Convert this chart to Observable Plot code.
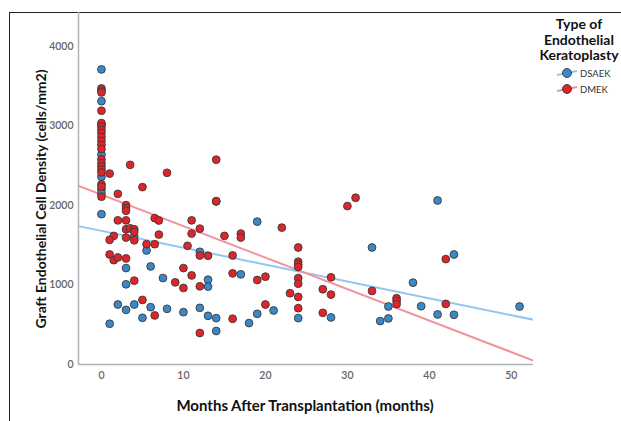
<!DOCTYPE html>
<html><head><meta charset="utf-8">
<script src="https://cdn.jsdelivr.net/npm/d3@7"></script>
<script src="https://cdn.jsdelivr.net/npm/@observablehq/plot@0.6"></script>
<style>
body{margin:0;background:#fff;font-family:Lato,"Open Sans",sans-serif;}
#wrap{position:relative;width:621px;height:421px;overflow:hidden;background:#fff;}
#frame{position:absolute;left:9px;top:12px;width:700px;height:500px;border-top:1.5px solid #222;border-left:1.5px solid #222;pointer-events:none;}
.t{position:absolute;font-weight:bold;color:#111;white-space:nowrap;}
#ytitle{left:40px;top:199px;transform:translate(-50%,-50%) rotate(-90deg);font-size:14px;}
#xtitle{left:305px;top:405px;transform:translate(-50%,-50%);font-size:15px;}
#legend{position:absolute;left:520px;top:16px;width:120px;}
#ltitle{position:absolute;left:59px;top:0;transform:translateX(-50%);text-align:center;font-size:14px;font-weight:bold;line-height:15.5px;color:#111;white-space:nowrap;}
.li{position:absolute;left:36px;font-size:9.5px;color:#333;display:flex;align-items:center;}
.li svg{margin-right:2px;}
</style></head><body><div id="wrap"><div id="frame"></div>
<div class="t" id="ytitle">Graft Endothelial Cell Density (cells/mm2)</div>
<div class="t" id="xtitle">Months After Transplantation (months)</div>
<div id="legend"></div>
</div>
<script>
const groups = ["DSAEK", "DMEK"];
const groupColors = ["#3b88c9", "#e0242a"];
const lineColors = ["#93c5ef", "#f2909b"];

// DSAEK (blue) points
const dsaekMonths = [0,0,0,0,0,0,0,0,
  5.5,6,3,7.5,3,2,3,4,6,8,10,12,5,13,14,1,14,13,13,12,4,
  19,17,21,19,24,28,18,33,41,43,38,35,39,51,34,35,41,43];
const dsaekDensity = [3710,3310,3020,2640,2360,2200,2150,1890,
  1433,1233,1212,1087,1008,754,687,754,721,700,658,712,587,612,583,512,421,1066,979,1417,1608,
  1796,1133,679,637,583,592,521,1471,2062,1383,1029,729,733,729,546,579,629,625];

// DMEK (red) points
const dmekMonths = [0,0,0,0,0,0,0,0,0,0,0,0,0,0,0,0,0,0,0,0,
  1,3.5,8,5,2,3,3,3,2,3,6.5,7,11,12,14,15,3,3.5,4,4,1.5,1,3,4,7,5.5,6.5,11,10.5,12,13,
  1,1.5,2,3,10,4,9,10,11,12,5,6.5,12,
  14,14,22,17,17,24,16,24,24,24,24,24,28,16,20,19,27,28,23,24,20,24,27,16,30,31,
  42,33,36,36,36,42];
const dmekDensity = [3470,3445,3420,3190,3035,2990,2950,2910,2860,2810,2760,2710,2580,2530,2490,2450,2415,2265,2235,2110,
  2400,2510,2410,2230,2145,2004,1966,1933,1812,1812,1840,1810,1812,1708,2050,1617,1700,1712,1700,1667,1617,1567,1596,1562,1633,1512,1512,1646,1492,1370,1367,
  1383,1312,1346,1333,1212,1054,1033,962,1120,983,812,617,396,
  2575,2054,1721,1646,1596,1471,1371,1292,1258,1225,1087,1016,1096,1146,1104,1062,946,879,896,850,754,708,650,575,1992,2096,
  1325,925,833,800,758,762];

// linear fit lines (intercept, slope per month)
const fitIntercept = [1680, 2135];
const fitSlope = [-21.2, -39.6];

const xTicks = [0, 10, 20, 30, 40, 50];
const yTicks = [0, 1000, 2000, 3000, 4000];
const xDomain = [-2.8, 52.7];
const yDomain = [0, 4425];

const points = [
  ...dsaekMonths.map((m, i) => ({group: groups[0], months: m, density: dsaekDensity[i]})),
  ...dmekMonths.map((m, i) => ({group: groups[1], months: m, density: dmekDensity[i]}))
];
const fits = groups.flatMap((g, i) => xDomain.map(x => ({group: g, months: x, density: fitIntercept[i] + fitSlope[i] * x})));

const chart = Plot.plot({
  width: 621, height: 421,
  marginLeft: 78, marginTop: 12, marginRight: 88, marginBottom: 57,
  style: {background: "transparent", fontFamily: "Lato, 'Open Sans', sans-serif"},
  x: {domain: xDomain, label: null},
  y: {domain: yDomain, label: null},
  color: {domain: groups, range: groupColors},
  marks: [
    Plot.axisY({ticks: yTicks, tickFormat: d3.format("d"), tickSize: 0, tickPadding: 5, fontSize: 10.5, fontWeight: 600, color: "#666", label: null}),
    Plot.axisX({ticks: xTicks, tickFormat: d3.format("d"), tickSize: 0, tickPadding: 7, fontSize: 10.5, fontWeight: 600, color: "#666", label: null}),
    Plot.ruleX([xDomain[0]], {stroke: "#b3b3b3", strokeWidth: 1.5}),
    Plot.ruleY([yDomain[0]], {stroke: "#b3b3b3", strokeWidth: 1.5}),
    Plot.line(fits, {x: "months", y: "density", z: "group", stroke: d => lineColors[groups.indexOf(d.group)], strokeWidth: 2, clip: true}),
    Plot.dot(points, {x: "months", y: "density", fill: "group", r: 3.9, stroke: "#3a3a3a", strokeWidth: 0.9})
  ]
});
document.getElementById("wrap").appendChild(chart);
chart.style.position = "absolute"; chart.style.left = "0"; chart.style.top = "0";

const legend = document.getElementById("legend");
legend.innerHTML = `<div id="ltitle">Type of<br>Endothelial<br>Keratoplasty</div>` +
  groups.map((g, i) => `<div class="li" style="top:${51 + i * 16}px"><svg width="22" height="12"><line x1="1" y1="8" x2="21" y2="4" stroke="${lineColors[i]}" stroke-width="2"/><circle cx="11" cy="6" r="4.5" fill="${groupColors[i]}" stroke="#3a3a3a" stroke-width="0.9"/></svg>${g}</div>`).join("");
</script>
</body></html>
